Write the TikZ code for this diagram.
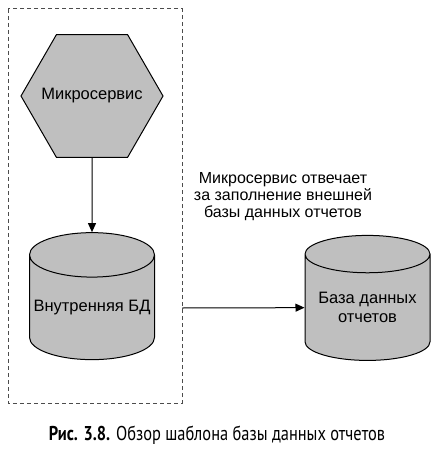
\documentclass[tikz,border=0pt]{standalone}
\usepackage{fontspec}
\setmainfont{Liberation Sans}
\newfontfamily\capfont[FakeStretch=0.82]{PT Sans}
\usetikzlibrary{shapes.geometric,arrows.meta}
\tikzset{%
  svcbox/.style={draw=black!70,dash pattern=on 4pt off 3pt,line width=1pt},
  hexnode/.style={draw,line width=1pt,shape=regular polygon,regular polygon sides=6,fill=black!25,minimum size=142pt,inner sep=0pt},
  dbnode/.style={draw,line width=1pt,shape=cylinder,shape border rotate=90,aspect=0.38,fill=black!25,minimum width=125pt,minimum height=127pt,inner sep=0pt,align=center,font=\fontsize{16.5}{19}\selectfont},
  flow/.style={draw,line width=1pt,-{Triangle[length=9pt,width=8pt]}}
}
\begin{document}
\begin{tikzpicture}[x=1pt,y=-1pt]
    \useasboundingbox (0,0) rectangle (444,452);
    \draw[svcbox] (8,9) rectangle (182,403);
    \coordinate (boxe) at (182,308);
    \node[hexnode,label={[font=\fontsize{16.5}{19}\selectfont]center:Микросервис}] (ms) at (92,96) {};
    \node[dbnode] (idb) at (92,307.5) {Внутренняя БД};
    \node[dbnode,minimum height=125pt] (rdb) at (367.5,307.5) {База данных\\отчетов};
    \node[align=center,font=\fontsize{16}{17}\selectfont] (note) at (283,197)
      {Микросервис отвечает\\за заполнение внешней\\базы данных отчетов};
    \draw[flow] (ms) -- (idb);
    \draw[flow] (boxe) -- (rdb);
    \node[font=\capfont\fontsize{20}{22}\selectfont] (cap) at (217,435)
      {\textbf{Рис. 3.8.} Обзор шаблона базы данных отчетов};
  \end{tikzpicture}
\end{document}
